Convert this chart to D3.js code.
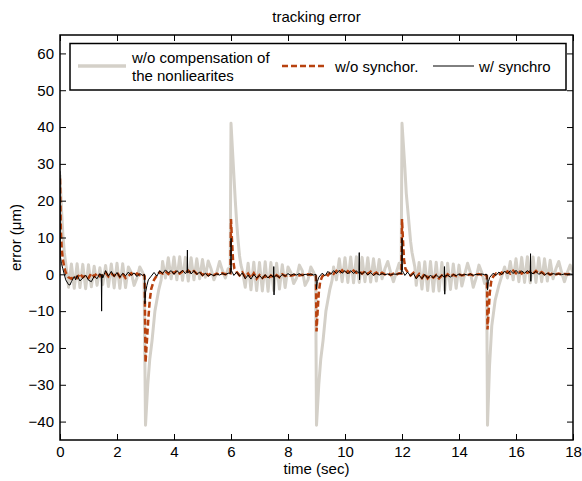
<!DOCTYPE html>
<html>
<head>
<meta charset="utf-8">
<script src="https://cdn.jsdelivr.net/npm/d3@7"></script>
<style>
  body { margin: 0; background: #fff; }
  svg text { font-family: Arial, "Liberation Sans", sans-serif; fill: #000; }
</style>
</head>
<body>
<svg width="582" height="481"></svg>
<script>
// tick labels
var xTicks = [0, 2, 4, 6, 8, 10, 12, 14, 16, 18];
var yTicks = [-40, -30, -20, -10, 0, 10, 20, 30, 40, 50, 60];

// w/o compensation of the nonliearites  [time, error]
var grayPts = [
  [0,27],[0.05,18],[0.1,11],[0.15,6],[0.2,3],[0.25,0],
  [0.3,-3.5],[0.4,2.8],[0.5,-3.8],[0.6,2.9],[0.7,-3.6],[0.8,2.7],[0.9,-3.9],[1.0,2.6],[1.1,-3.4],[1.2,2.2],
  [1.3,-3.0],[1.4,1.8],[1.5,-2.8],[1.6,2.4],[1.7,-3.3],[1.8,2.8],[1.9,-3.7],[2.0,3.0],[2.1,-3.8],[2.2,2.9],
  [2.3,-3.6],[2.4,2.0],[2.5,0.5],[2.6,-3.0],[2.7,-1.0],[2.8,2.0],[2.9,0.5],[2.95,-1],
  [3.0,-41],[3.08,-30],[3.15,-23],[3.23,-18],[3.33,-10],[3.4,-7],[3.47,-4],[3.55,-1.5],
  [3.6,3.5],[3.7,-1.0],[3.8,4.5],[3.9,-1.2],[4.0,4.7],[4.1,-1.5],[4.2,4.8],[4.3,-1.6],[4.4,4.6],[4.5,-1.8],
  [4.6,4.5],[4.7,-1.5],[4.8,4.2],[4.9,-1.2],[5.0,4.0],[5.1,-0.8],[5.2,3.6],[5.3,1.5],[5.4,-1.5],[5.5,0.5],
  [5.6,3.5],[5.7,1.0],[5.8,-1.0],[5.9,1.5],[5.97,0.5],
  [6.0,41],[6.05,34],[6.1,27],[6.15,20],[6.2,14],[6.25,9],[6.3,5],[6.35,2.5],[6.4,1],
  [6.5,-3.5],[6.6,3.0],[6.7,-4.2],[6.8,3.3],[6.9,-4.4],[7.0,3.2],[7.1,-4.5],[7.2,3.4],[7.3,-4.6],[7.4,3.2],
  [7.5,-4.4],[7.6,3.0],[7.7,-4.0],[7.8,2.6],[7.9,-3.6],[8.0,2.0],[8.1,0.5],[8.2,-2.5],[8.3,-1],[8.4,2.5],
  [8.5,1.0],[8.6,-3.0],[8.7,-1.5],[8.8,2.0],[8.9,0.5],[8.97,-1],
  [9.0,-41],[9.08,-30],[9.15,-23],[9.23,-18],[9.33,-10],[9.4,-7],[9.47,-4],[9.55,-1.5],
  [9.6,2.0],[9.7,-1.5],[9.8,4.2],[9.9,-2.0],[10.0,4.5],[10.1,-2.2],[10.2,4.7],[10.3,-2.3],[10.4,4.8],[10.5,-2.2],
  [10.6,4.6],[10.7,-2.0],[10.8,4.5],[10.9,-2.1],[11.0,4.2],[11.1,-1.8],[11.2,4.0],[11.3,-1.2],[11.4,1.5],[11.5,3.5],
  [11.6,0.5],[11.7,-2.0],[11.8,0.5],[11.9,3.0],[11.97,1],
  [12.0,41],[12.05,35],[12.1,29],[12.15,22],[12.22,16],[12.3,9],[12.35,6],[12.4,4],[12.45,2],
  [12.5,-3.0],[12.6,3.2],[12.7,-4.0],[12.8,3.4],[12.9,-4.4],[13.0,3.5],[13.1,-4.6],[13.2,3.3],[13.3,-4.5],[13.4,3.2],
  [13.5,-4.3],[13.6,3.0],[13.7,-4.1],[13.8,2.8],[13.9,-3.8],[14.0,2.5],[14.1,-3.2],[14.2,0],[14.3,3.0],[14.4,0.5],
  [14.5,-3.5],[14.6,-1.0],[14.7,2.5],[14.8,0.5],[14.9,-2.5],[14.97,-1],
  [15.0,-41],[15.04,-32],[15.07,-25],[15.15,-14],[15.27,-7],[15.4,-3],[15.5,-0.5],
  [15.6,2.0],[15.7,-1.0],[15.8,3.5],[15.9,-1.5],[16.0,4.2],[16.1,-2.0],[16.2,4.6],[16.3,-2.2],[16.4,4.8],[16.5,-2.3],
  [16.6,4.7],[16.7,-2.2],[16.8,4.5],[16.9,-2.0],[17.0,4.2],[17.1,-1.8],[17.2,3.8],[17.3,-1.2],[17.4,1.5],[17.5,3.5],
  [17.6,0.5],[17.7,-2.0],[17.8,0.5],[17.9,2.5],[18.0,0.5]
];

// w/o synchor.
var orangePts = [
  [0,26],[0.03,12],[0.06,7],[0.1,4],[0.15,2],[0.2,0.5],[0.3,-0.8],[0.4,-1.2],[0.5,-0.5],[0.6,-1.0],[0.7,0.2],
  [0.8,-0.8],[0.9,-0.3],[1.0,-1.0],[1.1,0.3],[1.2,-0.6],[1.3,0.4],[1.4,-0.5],[1.5,-0.2],[1.6,0.5],[1.7,-0.6],
  [1.8,0.2],[1.9,-0.4],[2.0,0.5],[2.1,-0.7],[2.2,0.2],[2.3,-1.0],[2.4,-0.5],[2.5,0.3],[2.6,-0.4],[2.7,0.2],
  [2.8,-0.2],[2.9,0.1],[2.97,-0.5],
  [3.0,-24],[3.05,-18],[3.1,-12],[3.15,-7],[3.2,-4],[3.3,-1.5],[3.4,-0.3],
  [3.5,0.6],[3.6,0.2],[3.7,0.8],[3.8,0.1],[3.9,0.9],[4.0,0.3],[4.1,1.0],[4.2,0.2],[4.3,0.8],[4.4,0.4],[4.5,1.0],
  [4.6,0.3],[4.7,0.9],[4.8,0.2],[4.9,0.7],[5.0,-0.2],[5.1,0.5],[5.2,-0.3],[5.3,0.3],[5.4,-0.2],[5.5,0.2],
  [5.6,-0.1],[5.7,0.3],[5.8,0.0],[5.9,0.4],[5.98,0.3],
  [6.0,15],[6.03,10],[6.07,4],[6.12,1.5],[6.2,0.6],
  [6.3,-0.3],[6.4,0.5],[6.5,-0.8],[6.6,0.2],[6.7,-1.0],[6.8,0.3],[6.9,-1.2],[7.0,-0.2],[7.1,-1.0],[7.2,-0.4],
  [7.3,-1.2],[7.4,-0.3],[7.5,-0.9],[7.6,-0.2],[7.7,-0.8],[7.8,0.0],[7.9,-0.5],[8.0,-0.1],[8.1,-0.4],[8.2,-0.2],
  [8.3,0.0],[8.4,-0.3],[8.5,-0.1],[8.6,-0.3],[8.7,0.0],[8.8,-0.2],[8.9,0.0],[8.98,-0.5],
  [9.0,-15.5],[9.04,-10],[9.08,-5],[9.13,-2],[9.2,-0.6],
  [9.3,0.2],[9.4,-0.3],[9.5,0.6],[9.6,0.1],[9.7,0.9],[9.8,0.3],[9.9,1.1],[10.0,0.2],[10.1,0.9],[10.2,0.3],
  [10.3,1.0],[10.4,0.4],[10.5,0.8],[10.6,0.2],[10.7,0.9],[10.8,0.1],[10.9,0.7],[11.0,0.0],[11.1,0.5],[11.2,-0.2],
  [11.3,0.4],[11.4,0.0],[11.5,0.3],[11.6,-0.2],[11.7,0.2],[11.8,-0.1],[11.9,0.3],[11.98,0.2],
  [12.0,15],[12.03,10],[12.07,4],[12.12,1.5],[12.2,0.6],
  [12.3,-0.3],[12.4,0.4],[12.5,-0.8],[12.6,0.1],[12.7,-1.0],[12.8,0.2],[12.9,-1.1],[13.0,-0.3],[13.1,-0.9],[13.2,-0.2],
  [13.3,-1.1],[13.4,-0.3],[13.5,-0.8],[13.6,0.0],[13.7,-0.7],[13.8,-0.1],[13.9,-0.5],[14.0,0.0],[14.1,-0.3],[14.2,-0.1],
  [14.3,-0.2],[14.4,0.0],[14.5,-0.3],[14.6,-0.1],[14.7,0.1],[14.8,-0.2],[14.9,0.0],[14.98,-0.5],
  [15.0,-15],[15.04,-10],[15.08,-5],[15.13,-2],[15.2,-0.6],
  [15.3,0.2],[15.4,-0.2],[15.5,0.5],[15.6,0.0],[15.7,0.8],[15.8,0.2],[15.9,1.0],[16.0,0.3],[16.1,1.0],[16.2,0.2],
  [16.3,0.9],[16.4,0.4],[16.5,0.8],[16.6,0.2],[16.7,0.9],[16.8,0.1],[16.9,0.6],[17.0,0.0],[17.1,0.4],[17.2,-0.1],
  [17.3,0.3],[17.4,0.0],[17.5,0.2],[17.6,-0.1],[17.7,0.1],[17.8,0.0],[17.9,0.1],[18.0,0.0]
];

// w/ synchro
var blackPts = [
  [0,28],[0.01,5],[0.05,3],[0.1,1.5],[0.15,0],[0.2,-1.5],[0.3,-2.8],[0.35,-2.9],[0.4,-2.0],[0.5,-0.6],[0.55,-1.5],
  [0.6,-0.3],[0.7,-1.8],[0.8,-1.0],[0.9,-0.2],[1.0,-1.6],[1.1,-2.0],[1.2,-0.5],[1.3,-1.2],[1.4,0.2],[1.45,-0.5],
  [1.46,-10],[1.47,0],[1.5,-1.0],[1.6,1.0],[1.7,-0.5],[1.8,0.8],[1.9,-0.6],[2.0,0.5],[2.1,-0.8],[2.2,0.3],
  [2.3,-0.4],[2.4,0.6],[2.5,-0.3],[2.6,0.4],[2.7,-0.6],[2.8,0.2],[2.9,-0.3],[2.97,0],
  [2.98,-8],[3.0,-5],[3.05,-3],[3.1,-1.5],[3.2,-0.5],[3.3,0.5],[3.4,-0.5],[3.5,1.0],[3.6,0.2],[3.7,1.2],
  [3.8,0.4],[3.9,1.0],[4.0,0.0],[4.1,1.0],[4.2,0.3],[4.3,1.1],[4.4,0.2],[4.46,0.8],[4.47,6.6],[4.48,0.4],
  [4.55,0.9],[4.6,0.1],[4.7,1.0],[4.8,0.0],[4.9,0.6],[5.0,-0.4],[5.1,0.3],[5.2,-0.5],[5.3,0.0],[5.4,-0.4],
  [5.5,0.1],[5.6,-0.2],[5.7,0.2],[5.8,-0.1],[5.9,0.3],[5.99,0.3],
  [6.0,9.8],[6.01,1.0],[6.05,0.5],[6.1,-0.3],[6.2,0.6],[6.3,-0.5],[6.4,0.4],[6.5,-1.2],[6.6,-0.2],[6.7,-1.3],
  [6.8,0.0],[6.9,-1.0],[7.0,-0.3],[7.1,-1.2],[7.2,-0.1],[7.3,-1.0],[7.4,-0.2],[7.49,-0.8],[7.5,2.1],[7.51,-5.6],
  [7.52,-0.6],[7.6,-0.3],[7.7,-0.9],[7.8,0.0],[7.9,-0.5],[8.0,0.2],[8.1,-0.3],[8.2,0.1],[8.3,-0.2],[8.4,0.2],
  [8.5,-0.3],[8.6,0.0],[8.7,-0.2],[8.8,0.1],[8.9,-0.2],[8.98,0.0],
  [9.0,-4],[9.03,-2],[9.08,-0.8],[9.2,0.3],[9.3,-0.4],[9.4,0.8],[9.5,0.0],[9.6,1.0],[9.7,0.2],[9.8,1.1],
  [9.9,0.3],[10.0,1.0],[10.1,0.1],[10.2,1.0],[10.3,0.2],[10.4,0.9],[10.49,0.3],[10.5,5.9],[10.51,-1.5],[10.52,0.6],
  [10.6,0.0],[10.7,0.8],[10.8,-0.2],[10.9,0.5],[11.0,-0.3],[11.1,0.3],[11.2,-0.2],[11.3,0.2],[11.4,-0.1],[11.5,0.1],
  [11.6,-0.2],[11.7,0.1],[11.8,0.0],[11.9,0.2],[11.99,0.2],
  [12.0,9.8],[12.01,1.0],[12.05,0.5],[12.1,-0.3],[12.2,0.6],[12.3,-0.5],[12.4,0.3],[12.5,-1.2],[12.6,-0.2],[12.7,-1.2],
  [12.8,0.0],[12.9,-1.1],[13.0,-0.2],[13.1,-1.0],[13.2,-0.1],[13.3,-0.9],[13.4,-0.2],[13.48,-0.8],[13.49,2.1],[13.5,-5.4],
  [13.51,-0.5],[13.6,-0.2],[13.7,-0.8],[13.8,0.0],[13.9,-0.4],[14.0,0.1],[14.1,-0.3],[14.2,0.0],[14.3,-0.2],[14.4,0.1],
  [14.5,-0.3],[14.6,0.0],[14.7,-0.1],[14.8,0.1],[14.9,-0.1],[14.98,0.0],
  [15.0,-4.2],[15.03,-2],[15.08,-0.8],[15.2,0.3],[15.3,-0.3],[15.4,0.6],[15.5,-0.1],[15.6,0.9],[15.7,0.1],[15.8,1.0],
  [15.9,0.2],[16.0,1.1],[16.1,0.2],[16.2,0.9],[16.3,0.3],[16.4,1.0],[16.5,0.3],[16.51,5.6],[16.52,-1.9],[16.53,0.5],
  [16.6,0.1],[16.7,0.8],[16.8,0.0],[16.9,0.5],[17.0,-0.2],[17.1,0.3],[17.2,-0.1],[17.3,0.2],[17.4,0.0],[17.5,0.1],
  [17.6,-0.1],[17.7,0.1],[17.8,0.0],[17.9,0.1],[18.0,0.0]
];

var svg = d3.select("svg");
var mLeft = 60, mRight = 573, mTop = 35, mBottom = 440;

var x = d3.scaleLinear().domain([0, 18]).range([mLeft, mRight]);
var y = d3.scaleLinear().domain([-45, 65]).range([mBottom, mTop]);

svg.append("defs").append("clipPath").attr("id", "clip")
  .append("rect").attr("x", mLeft).attr("y", mTop)
  .attr("width", mRight - mLeft).attr("height", mBottom - mTop);

var line = d3.line()
  .x(function(d) { return x(d[0]); })
  .y(function(d) { return y(d[1]); });

var plot = svg.append("g").attr("clip-path", "url(#clip)");

plot.append("path").datum(grayPts)
  .attr("d", line).attr("fill", "none")
  .attr("stroke", "#d4d0c8").attr("stroke-width", 3)
  .attr("stroke-linejoin", "round");

plot.append("path").datum(orangePts)
  .attr("d", line).attr("fill", "none")
  .attr("stroke", "#b8420f").attr("stroke-width", 2.5)
  .attr("stroke-dasharray", "6,3");

plot.append("path").datum(blackPts)
  .attr("d", line).attr("fill", "none")
  .attr("stroke", "#000").attr("stroke-width", 1);

// axes, ticks inward on all four sides
var fmt = d3.format("d");
svg.append("g").attr("transform", "translate(0," + mBottom + ")")
  .call(d3.axisBottom(x).tickValues(xTicks).tickSizeInner(-6).tickSizeOuter(0).tickPadding(6).tickFormat(fmt));
svg.append("g").attr("transform", "translate(0," + mTop + ")")
  .call(d3.axisTop(x).tickValues(xTicks).tickSizeInner(-6).tickSizeOuter(0).tickFormat(""));
svg.append("g").attr("transform", "translate(" + mLeft + ",0)")
  .call(d3.axisLeft(y).tickValues(yTicks).tickSizeInner(-6).tickSizeOuter(0).tickPadding(6).tickFormat(fmt));
svg.append("g").attr("transform", "translate(" + mRight + ",0)")
  .call(d3.axisRight(y).tickValues(yTicks).tickSizeInner(-6).tickSizeOuter(0).tickFormat(""));

svg.selectAll(".domain").remove();
svg.selectAll(".tick line").attr("stroke", "#000");
svg.selectAll(".tick text").attr("font-size", 15).attr("font-family", "Arial, 'Liberation Sans', sans-serif").attr("fill", "#000");

svg.append("rect")
  .attr("x", mLeft).attr("y", mTop)
  .attr("width", mRight - mLeft).attr("height", mBottom - mTop)
  .attr("fill", "none").attr("stroke", "#000").attr("stroke-width", 1.5);

// titles
svg.append("text").attr("x", (mLeft + mRight) / 2).attr("y", 22)
  .attr("text-anchor", "middle").attr("font-size", 15).text("tracking error");
svg.append("text").attr("x", (mLeft + mRight) / 2).attr("y", 474)
  .attr("text-anchor", "middle").attr("font-size", 15).text("time (sec)");
svg.append("text")
  .attr("transform", "translate(21," + ((mTop + mBottom) / 2) + ") rotate(-90)")
  .attr("text-anchor", "middle").attr("font-size", 15).text("error (\u03bcm)");

// legend
var lg = svg.append("g");
lg.append("rect").attr("x", 70).attr("y", 43.5).attr("width", 496).attr("height", 46.5)
  .attr("fill", "#fff").attr("stroke", "#000").attr("stroke-width", 1.5);
lg.append("line").attr("x1", 78).attr("x2", 126).attr("y1", 66).attr("y2", 66)
  .attr("stroke", "#d4d0c8").attr("stroke-width", 3.5);
lg.append("text").attr("x", 132).attr("y", 62.5).attr("font-size", 15).text("w/o compensation of");
lg.append("text").attr("x", 132).attr("y", 81).attr("font-size", 15).text("the nonliearites");
lg.append("line").attr("x1", 282).attr("x2", 327).attr("y1", 66).attr("y2", 66)
  .attr("stroke", "#b8420f").attr("stroke-width", 2.5).attr("stroke-dasharray", "6,3");
lg.append("text").attr("x", 335).attr("y", 71.5).attr("font-size", 15).text("w/o synchor.");
lg.append("line").attr("x1", 433).attr("x2", 474).attr("y1", 66).attr("y2", 66)
  .attr("stroke", "#000").attr("stroke-width", 1);
lg.append("text").attr("x", 479).attr("y", 71.5).attr("font-size", 15).text("w/ synchro");
</script>
</body>
</html>
